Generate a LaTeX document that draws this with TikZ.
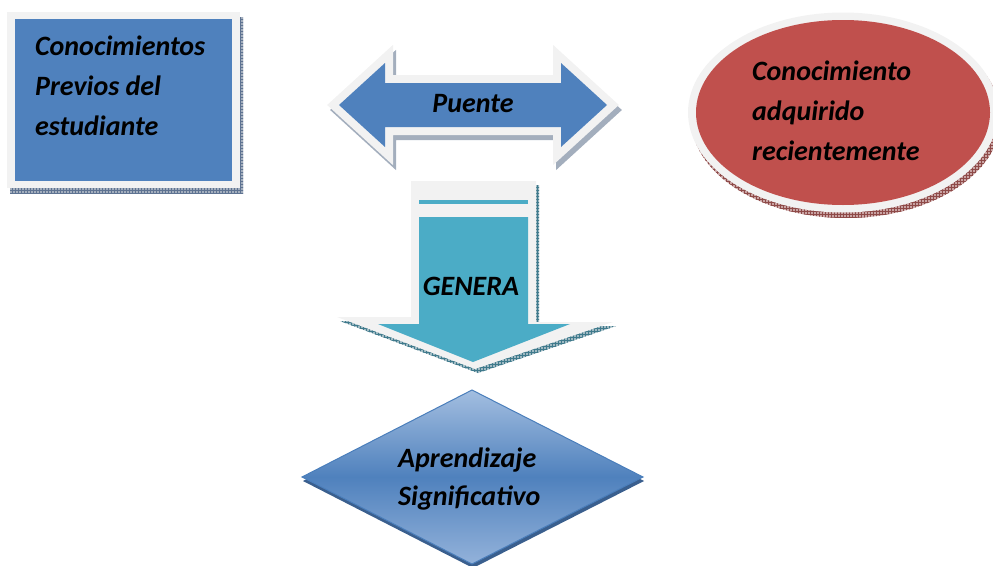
\documentclass[tikz,border=0pt]{standalone}
\usepackage{fontspec}
\setmainfont{Carlito}
\usetikzlibrary{patterns}
\definecolor{boxblue}{HTML}{4F81BD}
\definecolor{aquafill}{HTML}{4BACC6}
\definecolor{redfill}{HTML}{C0504D}
\definecolor{framegray}{HTML}{F2F2F2}
\definecolor{hatchblue}{HTML}{A3AEBD}
\definecolor{hatchblueline}{HTML}{5E7392}
\definecolor{hatchaqua}{HTML}{9FB9C2}
\definecolor{hatchaqualine}{HTML}{3F7A8C}
\definecolor{hatchred}{HTML}{C9A3A3}
\definecolor{hatchredline}{HTML}{8E4A48}
\definecolor{diamtop}{HTML}{A3BEE0}
\definecolor{diambottom}{HTML}{93B2DA}
\definecolor{diamedge}{HTML}{4A7EBB}
\definecolor{diamshadow}{HTML}{3A5F8E}
\tikzset{
  label/.style={font=\fontsize{28}{40}\selectfont\bfseries\itshape, text=black, inner sep=0pt, align=left},
  hatch/.style={fill=#1, postaction={pattern=grid, pattern color=#1line}},
  puentepath/.style={insert path={(339,105) -- (385,63) -- (385,83) -- (561,83) -- (561,63) -- (607,105) -- (561,147) -- (561,127) -- (385,127) -- (385,147) -- cycle}},
  generaframe/.style={insert path={(411,181) -- (536,181) -- (536,322) -- (613,322) -- (475,369) -- (337,317) -- (411,317) -- cycle}},
  diampath/.style={insert path={(472,390) -- (643,477) -- (472,564) -- (302,477) -- cycle}}
}
\begin{document}
\begin{tikzpicture}[x=1pt,y=-1pt]
\useasboundingbox (0,0) rectangle (993,565);
% left box
\path[hatch=hatchblue] (10,17) rectangle (243,193);
\fill[framegray] (7,12) rectangle (240,188);
\fill[boxblue] (15,19) rectangle (232,181);
\node[label, anchor=base west] (previos) at (35,135) {Conocimientos\\Previos del\\estudiante};
% double arrow
\begin{scope}[shift={(3,5)}]
\path[hatch=hatchblue, draw=hatchblue, line width=16pt, line join=miter, puentepath];
\end{scope}
\path[fill=framegray, draw=framegray, line width=16pt, line join=miter, puentepath];
\path[fill=boxblue, puentepath];
\node[label, anchor=base] (puente) at (473,112) {Puente};
% down arrow
\begin{scope}[shift={(3,4)}]
\path[hatch=hatchaqua, generaframe];
\end{scope}
\path[fill=framegray, generaframe];
\fill[aquafill] (419,200) rectangle (528,204);
\fill[aquafill] (419,217) -- (528,217) -- (528,324) -- (570,324) -- (473,362) -- (378,324) -- (419,324) -- cycle;
\node[label, anchor=base] (genera) at (471,295) {GENERA};
% ellipse
\path[hatch=hatchred] (846,118) ellipse [x radius=155pt, y radius=100pt];
\fill[framegray] (843,112.5) ellipse [x radius=155pt, y radius=100pt];
\fill[redfill] (843,112.5) ellipse [x radius=147pt, y radius=92.5pt];
\node[label, anchor=base west] (adquirido) at (752,160) {Conocimiento\\adquirido\\recientemente};
% diamond
\begin{scope}[shift={(1,4)}]
\path[fill=diamshadow, diampath];
\end{scope}
\path[top color=diamtop, bottom color=diambottom, middle color=boxblue, draw=diamedge, line width=1pt, diampath];
\node[label, anchor=base west, font=\fontsize{28}{38}\selectfont\bfseries\itshape] (aprendizaje) at (398,505) {Aprendizaje\\Significativo};
\end{tikzpicture}
\end{document}
